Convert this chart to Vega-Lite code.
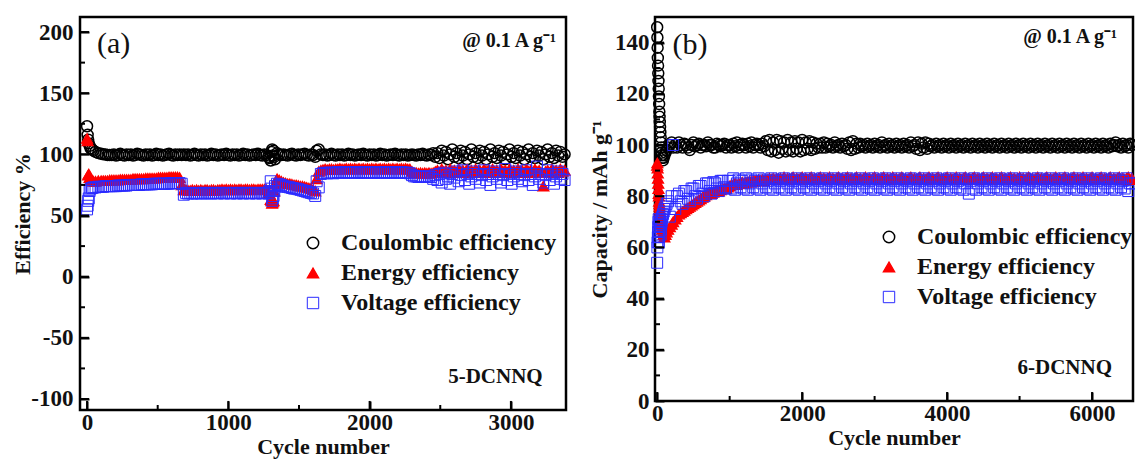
{
  "$schema": "https://vega.github.io/schema/vega-lite/v6.json",
  "background": "white",
  "padding": {"left": 10, "top": 15, "right": 1, "bottom": 0},
  "spacing": 12,
  "config": {
    "font": "Liberation Serif",
    "view": {"stroke": "#000000", "strokeWidth": 2.5},
    "axis": {
      "domain": false,
      "grid": false,
      "ticks": true,
      "tickColor": "#000000",
      "tickOpacity": 1,
      "tickWidth": 2,
      "labelFont": "Liberation Serif",
      "labelFontSize": 23,
      "labelFontWeight": "bold",
      "labelColor": "#111111",
      "titleFont": "Liberation Serif",
      "titleFontSize": 22,
      "titleFontWeight": "bold",
      "titleColor": "#111111"
    },
    "rule": {"color": "#000000", "strokeWidth": 2, "strokeCap": "butt"},
    "legend": {
      "labelFont": "Liberation Serif",
      "labelFontSize": 24,
      "labelFontWeight": "bold",
      "labelColor": "#111111",
      "labelLimit": 0,
      "symbolSize": 130,
      "symbolStrokeWidth": 1.3,
      "rowPadding": 6,
      "labelOffset": 16
    }
  },
  "resolve": {"legend": {"shape": "independent", "fill": "independent", "stroke": "independent", "strokeWidth": "independent"}},
  "datasets": {
    "cellA": [
      {"c": 0, "ce": 123, "ee": 113, "ve": 55},
      {"c": 4, "ce": 116, "ee": 111, "ve": 58},
      {"c": 8, "ce": 112, "ee": 83, "ve": 62},
      {"c": 12, "ce": 109, "ee": 84, "ve": 64},
      {"c": 18, "ce": 107, "ee": 81, "ve": 70},
      {"c": 25, "ce": 105, "ee": 79, "ve": 72},
      {"c": 35, "ce": 104, "ee": 78.5, "ve": 72.5},
      {"c": 45, "ce": 103, "ee": 78, "ve": 73},
      {"c": 60, "ce": 102, "ee": 78, "ve": 73},
      {"c": 80, "ce": 101, "ee": 78.5, "ve": 73.5},
      {"c": 100, "ce": 100.5, "ee": 78.5, "ve": 73.5},
      {"c": 115, "ce": 100, "ee": 78.5, "ve": 73.5},
      {"c": 130, "ce": 100, "ee": 78.5, "ve": 74},
      {"c": 145, "ce": 99.5, "ee": 78.5, "ve": 74},
      {"c": 160, "ce": 99.5, "ee": 79, "ve": 74},
      {"c": 175, "ce": 99.5, "ee": 79, "ve": 74},
      {"c": 190, "ce": 100, "ee": 79, "ve": 74},
      {"c": 205, "ce": 99, "ee": 79, "ve": 74},
      {"c": 220, "ce": 99.5, "ee": 79, "ve": 74.5},
      {"c": 235, "ce": 100.5, "ee": 79.5, "ve": 74.5},
      {"c": 250, "ce": 99.5, "ee": 79.5, "ve": 74.5},
      {"c": 265, "ce": 99, "ee": 79.5, "ve": 74.5},
      {"c": 280, "ce": 100, "ee": 79.5, "ve": 74.5},
      {"c": 295, "ce": 99.5, "ee": 79.5, "ve": 75},
      {"c": 310, "ce": 100, "ee": 79.5, "ve": 75},
      {"c": 325, "ce": 99, "ee": 80, "ve": 75},
      {"c": 340, "ce": 99.5, "ee": 80, "ve": 75},
      {"c": 355, "ce": 100.5, "ee": 80, "ve": 75},
      {"c": 370, "ce": 100, "ee": 80, "ve": 75},
      {"c": 385, "ce": 99.5, "ee": 80, "ve": 75.5},
      {"c": 400, "ce": 99, "ee": 80, "ve": 75.5},
      {"c": 415, "ce": 100, "ee": 80.5, "ve": 75.5},
      {"c": 430, "ce": 99.5, "ee": 80.5, "ve": 75.5},
      {"c": 445, "ce": 100, "ee": 80.5, "ve": 75.5},
      {"c": 460, "ce": 99, "ee": 80.5, "ve": 75.5},
      {"c": 475, "ce": 99.5, "ee": 80.5, "ve": 76},
      {"c": 490, "ce": 100.5, "ee": 80.5, "ve": 76},
      {"c": 505, "ce": 99.5, "ee": 81, "ve": 76},
      {"c": 520, "ce": 100, "ee": 81, "ve": 76},
      {"c": 535, "ce": 99, "ee": 81, "ve": 76},
      {"c": 550, "ce": 99.5, "ee": 81, "ve": 76},
      {"c": 565, "ce": 100, "ee": 81, "ve": 76},
      {"c": 580, "ce": 100.5, "ee": 81.5, "ve": 76},
      {"c": 595, "ce": 99.5, "ee": 81.5, "ve": 76.5},
      {"c": 610, "ce": 99, "ee": 81.5, "ve": 76.5},
      {"c": 625, "ce": 100, "ee": 81.5, "ve": 76.5},
      {"c": 640, "ce": 99.5, "ee": 81.5, "ve": 76.5},
      {"c": 655, "ce": 100, "ee": 81, "ve": 76.5},
      {"c": 670, "ce": 99.5, "ee": 75, "ve": 76},
      {"c": 685, "ce": 100, "ee": 71, "ve": 67},
      {"c": 700, "ce": 99.5, "ee": 71, "ve": 68.5},
      {"c": 715, "ce": 100, "ee": 70.5, "ve": 68},
      {"c": 730, "ce": 99, "ee": 70.5, "ve": 68.5},
      {"c": 745, "ce": 99.5, "ee": 71, "ve": 68},
      {"c": 760, "ce": 100.5, "ee": 70.5, "ve": 68.5},
      {"c": 775, "ce": 99.5, "ee": 71, "ve": 68},
      {"c": 790, "ce": 99, "ee": 70.5, "ve": 68.5},
      {"c": 805, "ce": 100, "ee": 71, "ve": 68},
      {"c": 820, "ce": 99.5, "ee": 70.5, "ve": 68.5},
      {"c": 835, "ce": 100, "ee": 71, "ve": 68.5},
      {"c": 850, "ce": 99, "ee": 71, "ve": 68},
      {"c": 865, "ce": 99.5, "ee": 70.5, "ve": 68.5},
      {"c": 880, "ce": 100.5, "ee": 71, "ve": 68},
      {"c": 895, "ce": 99.5, "ee": 71, "ve": 68.5},
      {"c": 910, "ce": 100, "ee": 70.5, "ve": 68.5},
      {"c": 925, "ce": 99, "ee": 71, "ve": 68},
      {"c": 940, "ce": 99.5, "ee": 71, "ve": 68.5},
      {"c": 955, "ce": 100, "ee": 71.5, "ve": 68.5},
      {"c": 970, "ce": 99.5, "ee": 71, "ve": 68},
      {"c": 985, "ce": 100.5, "ee": 71.5, "ve": 68.5},
      {"c": 1000, "ce": 99.5, "ee": 71, "ve": 68.5},
      {"c": 1015, "ce": 99, "ee": 71.5, "ve": 68},
      {"c": 1030, "ce": 100, "ee": 71, "ve": 68.5},
      {"c": 1045, "ce": 99.5, "ee": 71.5, "ve": 68.5},
      {"c": 1060, "ce": 100, "ee": 71, "ve": 68},
      {"c": 1075, "ce": 99, "ee": 71.5, "ve": 68.5},
      {"c": 1090, "ce": 99.5, "ee": 71.5, "ve": 68.5},
      {"c": 1105, "ce": 100.5, "ee": 71, "ve": 68},
      {"c": 1120, "ce": 99.5, "ee": 71.5, "ve": 68.5},
      {"c": 1135, "ce": 100, "ee": 71.5, "ve": 68.5},
      {"c": 1150, "ce": 99, "ee": 71, "ve": 68},
      {"c": 1165, "ce": 99.5, "ee": 71.5, "ve": 68.5},
      {"c": 1180, "ce": 100, "ee": 71.5, "ve": 68.5},
      {"c": 1195, "ce": 99.5, "ee": 71, "ve": 68},
      {"c": 1210, "ce": 100.5, "ee": 71.5, "ve": 68.5},
      {"c": 1225, "ce": 99.5, "ee": 71.5, "ve": 68.5},
      {"c": 1240, "ce": 99, "ee": 71.5, "ve": 68},
      {"c": 1255, "ce": 100, "ee": 71.5, "ve": 68.5},
      {"c": 1270, "ce": 99.5, "ee": 71, "ve": 68.5},
      {"c": 1285, "ce": 98, "ee": 69, "ve": 68},
      {"c": 1290, "ce": 97, "ee": 68, "ve": 70},
      {"c": 1300, "ce": 95, "ee": 63, "ve": 78},
      {"c": 1305, "ce": 102, "ee": 62, "ve": 72},
      {"c": 1310, "ce": 104, "ee": 60, "ve": 62},
      {"c": 1315, "ce": 99, "ee": 61, "ve": 64},
      {"c": 1320, "ce": 103, "ee": 62, "ve": 66},
      {"c": 1325, "ce": 98, "ee": 70, "ve": 70},
      {"c": 1330, "ce": 96, "ee": 76, "ve": 74},
      {"c": 1345, "ce": 101, "ee": 80, "ve": 76},
      {"c": 1360, "ce": 100, "ee": 79, "ve": 75.5},
      {"c": 1375, "ce": 99.5, "ee": 78, "ve": 75},
      {"c": 1390, "ce": 100, "ee": 77, "ve": 74},
      {"c": 1405, "ce": 99.5, "ee": 76.5, "ve": 73.5},
      {"c": 1420, "ce": 99, "ee": 76, "ve": 73.5},
      {"c": 1435, "ce": 100, "ee": 76, "ve": 73},
      {"c": 1450, "ce": 100.5, "ee": 75.5, "ve": 72.5},
      {"c": 1465, "ce": 99.5, "ee": 75, "ve": 72},
      {"c": 1480, "ce": 99, "ee": 75, "ve": 72},
      {"c": 1495, "ce": 100, "ee": 74.5, "ve": 71.5},
      {"c": 1510, "ce": 99.5, "ee": 74, "ve": 71},
      {"c": 1525, "ce": 100, "ee": 74, "ve": 70.5},
      {"c": 1540, "ce": 100.5, "ee": 73.5, "ve": 70},
      {"c": 1555, "ce": 99.5, "ee": 73, "ve": 69.5},
      {"c": 1570, "ce": 99, "ee": 72.5, "ve": 69},
      {"c": 1585, "ce": 100, "ee": 72, "ve": 68.5},
      {"c": 1600, "ce": 99.5, "ee": 71, "ve": 68},
      {"c": 1615, "ce": 98, "ee": 70, "ve": 66},
      {"c": 1625, "ce": 103, "ee": 80, "ve": 78},
      {"c": 1640, "ce": 104, "ee": 86, "ve": 73},
      {"c": 1655, "ce": 100, "ee": 87, "ve": 84},
      {"c": 1670, "ce": 99.5, "ee": 87.5, "ve": 84.5},
      {"c": 1685, "ce": 100, "ee": 88, "ve": 85},
      {"c": 1700, "ce": 99, "ee": 87.5, "ve": 84.5},
      {"c": 1715, "ce": 99.5, "ee": 88, "ve": 85},
      {"c": 1730, "ce": 100.5, "ee": 88, "ve": 85},
      {"c": 1745, "ce": 99.5, "ee": 87.5, "ve": 84.5},
      {"c": 1760, "ce": 99, "ee": 88, "ve": 85},
      {"c": 1775, "ce": 100, "ee": 88, "ve": 85.5},
      {"c": 1790, "ce": 99.5, "ee": 88.5, "ve": 85},
      {"c": 1805, "ce": 100, "ee": 88, "ve": 85},
      {"c": 1820, "ce": 99, "ee": 88, "ve": 85.5},
      {"c": 1835, "ce": 99.5, "ee": 88.5, "ve": 85},
      {"c": 1850, "ce": 100.5, "ee": 88, "ve": 85},
      {"c": 1865, "ce": 99.5, "ee": 88.5, "ve": 85.5},
      {"c": 1880, "ce": 100, "ee": 88, "ve": 85},
      {"c": 1895, "ce": 99, "ee": 88.5, "ve": 85},
      {"c": 1910, "ce": 99.5, "ee": 88, "ve": 85.5},
      {"c": 1925, "ce": 100, "ee": 88.5, "ve": 85},
      {"c": 1940, "ce": 99.5, "ee": 88, "ve": 85},
      {"c": 1955, "ce": 100.5, "ee": 88.5, "ve": 85.5},
      {"c": 1970, "ce": 99.5, "ee": 88, "ve": 85},
      {"c": 1985, "ce": 99, "ee": 88.5, "ve": 85},
      {"c": 2000, "ce": 100, "ee": 88, "ve": 85.5},
      {"c": 2015, "ce": 99.5, "ee": 88.5, "ve": 85},
      {"c": 2030, "ce": 100, "ee": 88, "ve": 85},
      {"c": 2045, "ce": 99, "ee": 88.5, "ve": 85.5},
      {"c": 2060, "ce": 99.5, "ee": 88, "ve": 85},
      {"c": 2075, "ce": 100.5, "ee": 88.5, "ve": 85},
      {"c": 2090, "ce": 99.5, "ee": 88, "ve": 85.5},
      {"c": 2105, "ce": 100, "ee": 88.5, "ve": 85},
      {"c": 2120, "ce": 99, "ee": 88, "ve": 85},
      {"c": 2135, "ce": 99.5, "ee": 88.5, "ve": 85.5},
      {"c": 2150, "ce": 100, "ee": 88, "ve": 85},
      {"c": 2165, "ce": 99.5, "ee": 88.5, "ve": 85},
      {"c": 2180, "ce": 100.5, "ee": 88, "ve": 85.5},
      {"c": 2195, "ce": 99.5, "ee": 88.5, "ve": 85},
      {"c": 2210, "ce": 99, "ee": 88, "ve": 85},
      {"c": 2225, "ce": 100, "ee": 88.5, "ve": 85.5},
      {"c": 2240, "ce": 99.5, "ee": 88, "ve": 85},
      {"c": 2255, "ce": 100, "ee": 88.5, "ve": 85},
      {"c": 2270, "ce": 99, "ee": 88, "ve": 85},
      {"c": 2285, "ce": 99.5, "ee": 88, "ve": 84.5},
      {"c": 2300, "ce": 100, "ee": 86, "ve": 83},
      {"c": 2315, "ce": 99.5, "ee": 85, "ve": 82},
      {"c": 2330, "ce": 99, "ee": 85, "ve": 82},
      {"c": 2345, "ce": 100, "ee": 84.5, "ve": 81.5},
      {"c": 2360, "ce": 99.5, "ee": 85, "ve": 82},
      {"c": 2375, "ce": 100.5, "ee": 84.5, "ve": 81.5},
      {"c": 2390, "ce": 99.5, "ee": 85, "ve": 82},
      {"c": 2405, "ce": 99, "ee": 84.5, "ve": 81.5},
      {"c": 2420, "ce": 100, "ee": 85, "ve": 82},
      {"c": 2435, "ce": 99.5, "ee": 84.5, "ve": 81.5},
      {"c": 2450, "ce": 101, "ee": 85, "ve": 80},
      {"c": 2465, "ce": 98, "ee": 86, "ve": 83},
      {"c": 2480, "ce": 101, "ee": 87, "ve": 79},
      {"c": 2495, "ce": 97, "ee": 85, "ve": 84},
      {"c": 2510, "ce": 103, "ee": 88, "ve": 77},
      {"c": 2525, "ce": 99, "ee": 86, "ve": 85},
      {"c": 2540, "ce": 102, "ee": 87, "ve": 80},
      {"c": 2555, "ce": 96, "ee": 85, "ve": 82},
      {"c": 2570, "ce": 100, "ee": 88, "ve": 76},
      {"c": 2585, "ce": 104, "ee": 86, "ve": 84},
      {"c": 2600, "ce": 98, "ee": 87, "ve": 81},
      {"c": 2615, "ce": 101, "ee": 85, "ve": 86},
      {"c": 2630, "ce": 97, "ee": 88, "ve": 78},
      {"c": 2645, "ce": 103, "ee": 86, "ve": 83},
      {"c": 2660, "ce": 99, "ee": 87, "ve": 87},
      {"c": 2675, "ce": 102, "ee": 85, "ve": 79},
      {"c": 2690, "ce": 96, "ee": 88, "ve": 84},
      {"c": 2705, "ce": 100, "ee": 86, "ve": 76},
      {"c": 2720, "ce": 104, "ee": 87, "ve": 82},
      {"c": 2735, "ce": 98, "ee": 85, "ve": 86},
      {"c": 2750, "ce": 101, "ee": 88, "ve": 80},
      {"c": 2765, "ce": 97, "ee": 86, "ve": 84},
      {"c": 2780, "ce": 103, "ee": 87, "ve": 77},
      {"c": 2795, "ce": 99, "ee": 85, "ve": 83},
      {"c": 2810, "ce": 102, "ee": 88, "ve": 87},
      {"c": 2825, "ce": 96, "ee": 86, "ve": 79},
      {"c": 2840, "ce": 100, "ee": 87, "ve": 84},
      {"c": 2855, "ce": 104, "ee": 85, "ve": 75},
      {"c": 2870, "ce": 98, "ee": 88, "ve": 82},
      {"c": 2885, "ce": 101, "ee": 86, "ve": 86},
      {"c": 2900, "ce": 97, "ee": 87, "ve": 80},
      {"c": 2915, "ce": 103, "ee": 85, "ve": 84},
      {"c": 2930, "ce": 99, "ee": 88, "ve": 77},
      {"c": 2945, "ce": 102, "ee": 86, "ve": 83},
      {"c": 2960, "ce": 96, "ee": 87, "ve": 88},
      {"c": 2975, "ce": 100, "ee": 85, "ve": 79},
      {"c": 2990, "ce": 104, "ee": 88, "ve": 84},
      {"c": 3005, "ce": 98, "ee": 86, "ve": 76},
      {"c": 3020, "ce": 101, "ee": 87, "ve": 82},
      {"c": 3035, "ce": 97, "ee": 85, "ve": 86},
      {"c": 3050, "ce": 103, "ee": 88, "ve": 80},
      {"c": 3065, "ce": 99, "ee": 86, "ve": 84},
      {"c": 3080, "ce": 102, "ee": 87, "ve": 78},
      {"c": 3095, "ce": 96, "ee": 85, "ve": 83},
      {"c": 3110, "ce": 100, "ee": 88, "ve": 87},
      {"c": 3125, "ce": 104, "ee": 86, "ve": 79},
      {"c": 3140, "ce": 98, "ee": 87, "ve": 84},
      {"c": 3155, "ce": 101, "ee": 85, "ve": 75},
      {"c": 3170, "ce": 97, "ee": 88, "ve": 82},
      {"c": 3185, "ce": 103, "ee": 86, "ve": 90},
      {"c": 3200, "ce": 99, "ee": 87, "ve": 80},
      {"c": 3215, "ce": 102, "ee": 85, "ve": 84},
      {"c": 3230, "ce": 96, "ee": 74, "ve": 77},
      {"c": 3245, "ce": 100, "ee": 86, "ve": 83},
      {"c": 3260, "ce": 104, "ee": 87, "ve": 87},
      {"c": 3275, "ce": 98, "ee": 85, "ve": 79},
      {"c": 3290, "ce": 101, "ee": 88, "ve": 84},
      {"c": 3305, "ce": 97, "ee": 86, "ve": 76},
      {"c": 3320, "ce": 103, "ee": 87, "ve": 82},
      {"c": 3335, "ce": 99, "ee": 85, "ve": 86},
      {"c": 3350, "ce": 102, "ee": 88, "ve": 80},
      {"c": 3365, "ce": 98, "ee": 86, "ve": 84},
      {"c": 3380, "ce": 100, "ee": 87, "ve": 79}
    ],
    "cellB": [
      {"c": 0, "ce": 146, "ee": 92, "ve": 54},
      {"c": 3, "ce": 142, "ee": 93, "ve": 60},
      {"c": 6, "ce": 138, "ee": 91, "ve": 62},
      {"c": 9, "ce": 134, "ee": 89, "ve": 64},
      {"c": 12, "ce": 131, "ee": 87, "ve": 66},
      {"c": 15, "ce": 128, "ee": 85, "ve": 68},
      {"c": 18, "ce": 125, "ee": 83, "ve": 70},
      {"c": 21, "ce": 122, "ee": 81, "ve": 71},
      {"c": 24, "ce": 119, "ee": 80, "ve": 62},
      {"c": 27, "ce": 116, "ee": 78, "ve": 64},
      {"c": 30, "ce": 113, "ee": 77, "ve": 66},
      {"c": 33, "ce": 111, "ee": 76, "ve": 68},
      {"c": 36, "ce": 109, "ee": 75, "ve": 69},
      {"c": 40, "ce": 107, "ee": 74, "ve": 70},
      {"c": 44, "ce": 105, "ee": 73, "ve": 71},
      {"c": 48, "ce": 103, "ee": 72, "ve": 65},
      {"c": 52, "ce": 101, "ee": 71, "ve": 67},
      {"c": 56, "ce": 99, "ee": 70, "ve": 69},
      {"c": 60, "ce": 97, "ee": 69, "ve": 70},
      {"c": 65, "ce": 96, "ee": 68, "ve": 71},
      {"c": 70, "ce": 95, "ee": 67, "ve": 72},
      {"c": 80, "ce": 94, "ee": 66, "ve": 73},
      {"c": 90, "ce": 95, "ee": 65, "ve": 74},
      {"c": 100, "ce": 96, "ee": 64, "ve": 75},
      {"c": 115, "ce": 97, "ee": 65, "ve": 76},
      {"c": 130, "ce": 98, "ee": 66, "ve": 77},
      {"c": 150, "ce": 99, "ee": 67, "ve": 78},
      {"c": 175, "ce": 100, "ee": 68, "ve": 72},
      {"c": 200, "ce": 101, "ee": 69, "ve": 80},
      {"c": 220, "ce": 99, "ee": 70, "ve": 100},
      {"c": 250, "ce": 100, "ee": 71, "ve": 75},
      {"c": 275, "ce": 99, "ee": 72, "ve": 80},
      {"c": 300, "ce": 101, "ee": 73, "ve": 81},
      {"c": 325, "ce": 100, "ee": 73.5, "ve": 78},
      {"c": 350, "ce": 99, "ee": 74, "ve": 77},
      {"c": 375, "ce": 100.5, "ee": 74.5, "ve": 82},
      {"c": 400, "ce": 100, "ee": 75, "ve": 82},
      {"c": 425, "ce": 99, "ee": 75.5, "ve": 79},
      {"c": 450, "ce": 98, "ee": 76, "ve": 78},
      {"c": 475, "ce": 100, "ee": 76.5, "ve": 83},
      {"c": 500, "ce": 101, "ee": 77, "ve": 83},
      {"c": 525, "ce": 99.5, "ee": 77.5, "ve": 80},
      {"c": 550, "ce": 100, "ee": 78, "ve": 79},
      {"c": 575, "ce": 100.5, "ee": 78.5, "ve": 84},
      {"c": 600, "ce": 99, "ee": 79, "ve": 84},
      {"c": 625, "ce": 100, "ee": 79.5, "ve": 81},
      {"c": 650, "ce": 100, "ee": 80, "ve": 80},
      {"c": 675, "ce": 99.5, "ee": 80.5, "ve": 85},
      {"c": 700, "ce": 101, "ee": 81, "ve": 85},
      {"c": 725, "ce": 100, "ee": 81, "ve": 82},
      {"c": 750, "ce": 100, "ee": 81, "ve": 81},
      {"c": 775, "ce": 99, "ee": 81.5, "ve": 85.5},
      {"c": 800, "ce": 99, "ee": 82, "ve": 85},
      {"c": 825, "ce": 100.5, "ee": 82, "ve": 83},
      {"c": 850, "ce": 100, "ee": 82, "ve": 82},
      {"c": 875, "ce": 99.5, "ee": 82.5, "ve": 86},
      {"c": 900, "ce": 100, "ee": 83, "ve": 86},
      {"c": 925, "ce": 100.5, "ee": 83, "ve": 83.5},
      {"c": 950, "ce": 99, "ee": 83, "ve": 83},
      {"c": 975, "ce": 100, "ee": 83.5, "ve": 86},
      {"c": 1000, "ce": 100, "ee": 84, "ve": 86},
      {"c": 1025, "ce": 99, "ee": 84.5, "ve": 83},
      {"c": 1050, "ce": 100.5, "ee": 84.5, "ve": 87},
      {"c": 1075, "ce": 99.5, "ee": 85, "ve": 82.5},
      {"c": 1100, "ce": 101, "ee": 84.5, "ve": 85},
      {"c": 1125, "ce": 99, "ee": 85, "ve": 86.5},
      {"c": 1150, "ce": 100, "ee": 85, "ve": 83.5},
      {"c": 1175, "ce": 100.5, "ee": 85.5, "ve": 86},
      {"c": 1200, "ce": 100, "ee": 85, "ve": 83},
      {"c": 1225, "ce": 99, "ee": 85.5, "ve": 87},
      {"c": 1250, "ce": 100.5, "ee": 85.5, "ve": 82.5},
      {"c": 1275, "ce": 99.5, "ee": 86, "ve": 85},
      {"c": 1300, "ce": 101, "ee": 85.5, "ve": 86.5},
      {"c": 1325, "ce": 99, "ee": 86, "ve": 83.5},
      {"c": 1350, "ce": 100, "ee": 86, "ve": 86},
      {"c": 1375, "ce": 100.5, "ee": 86, "ve": 83},
      {"c": 1400, "ce": 100, "ee": 86.5, "ve": 87},
      {"c": 1425, "ce": 99, "ee": 86, "ve": 82.5},
      {"c": 1450, "ce": 100.5, "ee": 86.5, "ve": 85},
      {"c": 1475, "ce": 99.5, "ee": 86, "ve": 86.5},
      {"c": 1500, "ce": 101.5, "ee": 86.5, "ve": 83.5},
      {"c": 1525, "ce": 98, "ee": 86.5, "ve": 86},
      {"c": 1550, "ce": 102, "ee": 87, "ve": 83},
      {"c": 1575, "ce": 97.5, "ee": 86.5, "ve": 87},
      {"c": 1600, "ce": 101, "ee": 87, "ve": 82.5},
      {"c": 1625, "ce": 98, "ee": 86.5, "ve": 85},
      {"c": 1650, "ce": 102, "ee": 87, "ve": 86.5},
      {"c": 1675, "ce": 97, "ee": 86.5, "ve": 83.5},
      {"c": 1700, "ce": 101.5, "ee": 87, "ve": 86},
      {"c": 1725, "ce": 98.5, "ee": 86.5, "ve": 83},
      {"c": 1750, "ce": 101, "ee": 87.5, "ve": 87},
      {"c": 1775, "ce": 97.5, "ee": 86.5, "ve": 82.5},
      {"c": 1800, "ce": 102, "ee": 87, "ve": 85},
      {"c": 1825, "ce": 98, "ee": 86.5, "ve": 86.5},
      {"c": 1850, "ce": 101, "ee": 87, "ve": 83.5},
      {"c": 1875, "ce": 97.5, "ee": 87.5, "ve": 86},
      {"c": 1900, "ce": 101.5, "ee": 86.5, "ve": 83},
      {"c": 1925, "ce": 98.5, "ee": 87, "ve": 87},
      {"c": 1950, "ce": 101, "ee": 86.5, "ve": 82.5},
      {"c": 1975, "ce": 97.5, "ee": 87, "ve": 85},
      {"c": 2000, "ce": 102, "ee": 87.5, "ve": 86.5},
      {"c": 2025, "ce": 98, "ee": 86.5, "ve": 83.5},
      {"c": 2050, "ce": 101, "ee": 87, "ve": 86},
      {"c": 2075, "ce": 98.5, "ee": 86.5, "ve": 83},
      {"c": 2100, "ce": 101.5, "ee": 87, "ve": 87},
      {"c": 2125, "ce": 98, "ee": 87.5, "ve": 82.5},
      {"c": 2150, "ce": 101, "ee": 86.5, "ve": 85},
      {"c": 2175, "ce": 98.5, "ee": 87, "ve": 86.5},
      {"c": 2200, "ce": 100.5, "ee": 86.5, "ve": 83.5},
      {"c": 2225, "ce": 99, "ee": 87, "ve": 86},
      {"c": 2250, "ce": 100.5, "ee": 87.5, "ve": 83},
      {"c": 2275, "ce": 99, "ee": 86.5, "ve": 87},
      {"c": 2300, "ce": 101, "ee": 87, "ve": 82.5},
      {"c": 2325, "ce": 99, "ee": 86.5, "ve": 85},
      {"c": 2350, "ce": 100.5, "ee": 87, "ve": 86.5},
      {"c": 2375, "ce": 99.5, "ee": 87.5, "ve": 83.5},
      {"c": 2400, "ce": 100, "ee": 86.5, "ve": 86},
      {"c": 2425, "ce": 99, "ee": 87, "ve": 83},
      {"c": 2450, "ce": 101, "ee": 86.5, "ve": 87},
      {"c": 2475, "ce": 99.5, "ee": 87, "ve": 82.5},
      {"c": 2500, "ce": 100, "ee": 87.5, "ve": 85},
      {"c": 2525, "ce": 99, "ee": 86.5, "ve": 86.5},
      {"c": 2550, "ce": 100.5, "ee": 87, "ve": 83.5},
      {"c": 2575, "ce": 99.5, "ee": 86.5, "ve": 86},
      {"c": 2600, "ce": 100, "ee": 87, "ve": 83},
      {"c": 2625, "ce": 98.5, "ee": 87.5, "ve": 87},
      {"c": 2650, "ce": 101, "ee": 86.5, "ve": 82.5},
      {"c": 2675, "ce": 98, "ee": 87, "ve": 85},
      {"c": 2700, "ce": 101.5, "ee": 86.5, "ve": 86.5},
      {"c": 2725, "ce": 98.5, "ee": 87, "ve": 83.5},
      {"c": 2750, "ce": 100.5, "ee": 87.5, "ve": 86},
      {"c": 2775, "ce": 99, "ee": 86.5, "ve": 83},
      {"c": 2800, "ce": 100.5, "ee": 87, "ve": 87},
      {"c": 2825, "ce": 99.5, "ee": 86.5, "ve": 82.5},
      {"c": 2850, "ce": 100, "ee": 87, "ve": 85},
      {"c": 2875, "ce": 99, "ee": 87.5, "ve": 86.5},
      {"c": 2900, "ce": 100.5, "ee": 86.5, "ve": 83.5},
      {"c": 2925, "ce": 99.5, "ee": 87, "ve": 86},
      {"c": 2950, "ce": 100, "ee": 86.5, "ve": 83},
      {"c": 2975, "ce": 99, "ee": 87, "ve": 87},
      {"c": 3000, "ce": 100.5, "ee": 87.5, "ve": 82.5},
      {"c": 3025, "ce": 99.5, "ee": 86.5, "ve": 85},
      {"c": 3050, "ce": 100, "ee": 87, "ve": 86.5},
      {"c": 3075, "ce": 99, "ee": 86.5, "ve": 83.5},
      {"c": 3100, "ce": 101, "ee": 87, "ve": 86},
      {"c": 3125, "ce": 99.5, "ee": 87.5, "ve": 83},
      {"c": 3150, "ce": 100, "ee": 86.5, "ve": 87},
      {"c": 3175, "ce": 99, "ee": 87, "ve": 82.5},
      {"c": 3200, "ce": 100.5, "ee": 86.5, "ve": 85},
      {"c": 3225, "ce": 99.5, "ee": 87, "ve": 86.5},
      {"c": 3250, "ce": 100, "ee": 87.5, "ve": 83.5},
      {"c": 3275, "ce": 99, "ee": 86.5, "ve": 86},
      {"c": 3300, "ce": 100.5, "ee": 87, "ve": 83},
      {"c": 3325, "ce": 99.5, "ee": 86.5, "ve": 87},
      {"c": 3350, "ce": 100, "ee": 87, "ve": 82.5},
      {"c": 3375, "ce": 99, "ee": 87.5, "ve": 85},
      {"c": 3400, "ce": 100.5, "ee": 86.5, "ve": 86.5},
      {"c": 3425, "ce": 99.5, "ee": 87, "ve": 83.5},
      {"c": 3450, "ce": 100, "ee": 86.5, "ve": 86},
      {"c": 3475, "ce": 99, "ee": 87, "ve": 83},
      {"c": 3500, "ce": 101, "ee": 87.5, "ve": 87},
      {"c": 3525, "ce": 99.5, "ee": 86.5, "ve": 82.5},
      {"c": 3550, "ce": 100, "ee": 87, "ve": 85},
      {"c": 3575, "ce": 98.5, "ee": 86.5, "ve": 86.5},
      {"c": 3600, "ce": 101, "ee": 87, "ve": 83.5},
      {"c": 3625, "ce": 98, "ee": 87.5, "ve": 86},
      {"c": 3650, "ce": 100.5, "ee": 86.5, "ve": 83},
      {"c": 3675, "ce": 99, "ee": 87, "ve": 87},
      {"c": 3700, "ce": 101, "ee": 86.5, "ve": 82.5},
      {"c": 3725, "ce": 98.5, "ee": 87, "ve": 85},
      {"c": 3750, "ce": 100.5, "ee": 87.5, "ve": 86.5},
      {"c": 3775, "ce": 99.5, "ee": 86.5, "ve": 83.5},
      {"c": 3800, "ce": 100, "ee": 87, "ve": 86},
      {"c": 3825, "ce": 99, "ee": 86.5, "ve": 83},
      {"c": 3850, "ce": 100.5, "ee": 87, "ve": 87},
      {"c": 3875, "ce": 99.5, "ee": 87.5, "ve": 82.5},
      {"c": 3900, "ce": 100, "ee": 86.5, "ve": 85},
      {"c": 3925, "ce": 99, "ee": 87, "ve": 86.5},
      {"c": 3950, "ce": 100.5, "ee": 86.5, "ve": 83.5},
      {"c": 3975, "ce": 99.5, "ee": 87, "ve": 86},
      {"c": 4000, "ce": 100, "ee": 87.5, "ve": 83},
      {"c": 4025, "ce": 99, "ee": 86.5, "ve": 87},
      {"c": 4050, "ce": 100.5, "ee": 87, "ve": 82.5},
      {"c": 4075, "ce": 99.5, "ee": 86.5, "ve": 85},
      {"c": 4100, "ce": 100, "ee": 87, "ve": 86.5},
      {"c": 4125, "ce": 99, "ee": 87.5, "ve": 83.5},
      {"c": 4150, "ce": 100.5, "ee": 86.5, "ve": 86},
      {"c": 4175, "ce": 99.5, "ee": 87, "ve": 83},
      {"c": 4200, "ce": 100, "ee": 86.5, "ve": 87},
      {"c": 4225, "ce": 99, "ee": 87, "ve": 82.5},
      {"c": 4250, "ce": 100.5, "ee": 87.5, "ve": 85},
      {"c": 4275, "ce": 99.5, "ee": 86.5, "ve": 86.5},
      {"c": 4300, "ce": 100, "ee": 87, "ve": 81},
      {"c": 4325, "ce": 99, "ee": 86.5, "ve": 86},
      {"c": 4350, "ce": 100.5, "ee": 87, "ve": 83},
      {"c": 4375, "ce": 99.5, "ee": 87.5, "ve": 87},
      {"c": 4400, "ce": 100, "ee": 86.5, "ve": 82.5},
      {"c": 4425, "ce": 99, "ee": 87, "ve": 85},
      {"c": 4450, "ce": 100.5, "ee": 86.5, "ve": 86.5},
      {"c": 4475, "ce": 99.5, "ee": 87, "ve": 83.5},
      {"c": 4500, "ce": 100, "ee": 87.5, "ve": 86},
      {"c": 4525, "ce": 99, "ee": 86.5, "ve": 83},
      {"c": 4550, "ce": 100.5, "ee": 87, "ve": 87},
      {"c": 4575, "ce": 99.5, "ee": 86.5, "ve": 82.5},
      {"c": 4600, "ce": 100, "ee": 87, "ve": 85},
      {"c": 4625, "ce": 99, "ee": 87.5, "ve": 86.5},
      {"c": 4650, "ce": 100.5, "ee": 86.5, "ve": 83.5},
      {"c": 4675, "ce": 99.5, "ee": 87, "ve": 86},
      {"c": 4700, "ce": 100, "ee": 86.5, "ve": 83},
      {"c": 4725, "ce": 99, "ee": 87, "ve": 87},
      {"c": 4750, "ce": 100.5, "ee": 87.5, "ve": 82.5},
      {"c": 4775, "ce": 99.5, "ee": 86.5, "ve": 85},
      {"c": 4800, "ce": 100, "ee": 87, "ve": 86.5},
      {"c": 4825, "ce": 99, "ee": 86.5, "ve": 83.5},
      {"c": 4850, "ce": 100.5, "ee": 87, "ve": 86},
      {"c": 4875, "ce": 99.5, "ee": 87.5, "ve": 83},
      {"c": 4900, "ce": 100, "ee": 86.5, "ve": 87},
      {"c": 4925, "ce": 99, "ee": 87, "ve": 82.5},
      {"c": 4950, "ce": 100.5, "ee": 86.5, "ve": 85},
      {"c": 4975, "ce": 99.5, "ee": 87, "ve": 86.5},
      {"c": 5000, "ce": 100, "ee": 87.5, "ve": 83.5},
      {"c": 5025, "ce": 99, "ee": 86.5, "ve": 86},
      {"c": 5050, "ce": 100.5, "ee": 87, "ve": 83},
      {"c": 5075, "ce": 99.5, "ee": 86.5, "ve": 87},
      {"c": 5100, "ce": 100, "ee": 87, "ve": 82.5},
      {"c": 5125, "ce": 99, "ee": 87.5, "ve": 85},
      {"c": 5150, "ce": 100.5, "ee": 86.5, "ve": 86.5},
      {"c": 5175, "ce": 99.5, "ee": 87, "ve": 83.5},
      {"c": 5200, "ce": 100, "ee": 86.5, "ve": 86},
      {"c": 5225, "ce": 99, "ee": 87, "ve": 83},
      {"c": 5250, "ce": 100.5, "ee": 87.5, "ve": 87},
      {"c": 5275, "ce": 99.5, "ee": 86.5, "ve": 82.5},
      {"c": 5300, "ce": 100, "ee": 87, "ve": 85},
      {"c": 5325, "ce": 99, "ee": 86.5, "ve": 86.5},
      {"c": 5350, "ce": 100.5, "ee": 87, "ve": 83.5},
      {"c": 5375, "ce": 99.5, "ee": 87.5, "ve": 86},
      {"c": 5400, "ce": 100, "ee": 86.5, "ve": 83},
      {"c": 5425, "ce": 99, "ee": 87, "ve": 87},
      {"c": 5450, "ce": 100.5, "ee": 86.5, "ve": 82.5},
      {"c": 5475, "ce": 99.5, "ee": 87, "ve": 85},
      {"c": 5500, "ce": 100, "ee": 87.5, "ve": 86.5},
      {"c": 5525, "ce": 99, "ee": 86.5, "ve": 83.5},
      {"c": 5550, "ce": 100.5, "ee": 87, "ve": 86},
      {"c": 5575, "ce": 99.5, "ee": 86.5, "ve": 83},
      {"c": 5600, "ce": 100, "ee": 87, "ve": 87},
      {"c": 5625, "ce": 99, "ee": 87.5, "ve": 82.5},
      {"c": 5650, "ce": 100.5, "ee": 86.5, "ve": 85},
      {"c": 5675, "ce": 99.5, "ee": 87, "ve": 86.5},
      {"c": 5700, "ce": 100, "ee": 86.5, "ve": 83.5},
      {"c": 5725, "ce": 99, "ee": 87, "ve": 86},
      {"c": 5750, "ce": 100.5, "ee": 87.5, "ve": 83},
      {"c": 5775, "ce": 99.5, "ee": 86.5, "ve": 87},
      {"c": 5800, "ce": 100, "ee": 87, "ve": 82.5},
      {"c": 5825, "ce": 99, "ee": 86.5, "ve": 85},
      {"c": 5850, "ce": 100.5, "ee": 87, "ve": 86.5},
      {"c": 5875, "ce": 99.5, "ee": 87.5, "ve": 83.5},
      {"c": 5900, "ce": 100, "ee": 86.5, "ve": 86},
      {"c": 5925, "ce": 99, "ee": 87, "ve": 83},
      {"c": 5950, "ce": 100.5, "ee": 86.5, "ve": 87},
      {"c": 5975, "ce": 99.5, "ee": 87, "ve": 82.5},
      {"c": 6000, "ce": 100, "ee": 87.5, "ve": 85},
      {"c": 6025, "ce": 99, "ee": 86.5, "ve": 86.5},
      {"c": 6050, "ce": 100.5, "ee": 87, "ve": 83.5},
      {"c": 6075, "ce": 99.5, "ee": 86.5, "ve": 86},
      {"c": 6100, "ce": 100, "ee": 87, "ve": 83},
      {"c": 6125, "ce": 99, "ee": 87.5, "ve": 87},
      {"c": 6150, "ce": 100.5, "ee": 86.5, "ve": 82.5},
      {"c": 6175, "ce": 99.5, "ee": 87, "ve": 85},
      {"c": 6200, "ce": 100, "ee": 86.5, "ve": 86.5},
      {"c": 6225, "ce": 99, "ee": 87, "ve": 83.5},
      {"c": 6250, "ce": 100.5, "ee": 87.5, "ve": 86},
      {"c": 6275, "ce": 99.5, "ee": 86.5, "ve": 83},
      {"c": 6300, "ce": 100, "ee": 87, "ve": 87},
      {"c": 6325, "ce": 101, "ee": 86.5, "ve": 82.5},
      {"c": 6350, "ce": 99.5, "ee": 87, "ve": 85},
      {"c": 6375, "ce": 100, "ee": 87.5, "ve": 86.5},
      {"c": 6400, "ce": 99, "ee": 86.5, "ve": 83.5},
      {"c": 6425, "ce": 100.5, "ee": 87, "ve": 86},
      {"c": 6450, "ce": 99.5, "ee": 86.5, "ve": 83},
      {"c": 6475, "ce": 100, "ee": 87, "ve": 87},
      {"c": 6500, "ce": 99, "ee": 87.5, "ve": 82},
      {"c": 6525, "ce": 100.5, "ee": 86.5, "ve": 85},
      {"c": 6550, "ce": 100, "ee": 87, "ve": 85}
    ]
  },
  "hconcat": [
    {
      "width": 486,
      "height": 393,
      "resolve": {"axis": {"x": "independent", "y": "independent"}},
      "layer": [
        {
          "data": {"name": "cellA"},
          "transform": [{"fold": ["ce", "ee", "ve"], "as": ["series", "val"]}],
          "mark": {"type": "point", "filled": true, "size": 120, "opacity": 1},
          "encoding": {
            "x": {
              "field": "c", "type": "quantitative", "title": "Cycle number",
              "scale": {"domain": [-50, 3390], "nice": false, "zero": false},
              "axis": {"values": [0, 1000, 2000, 3000], "format": "d", "ticks": true, "offset": -9, "tickSize": 9, "labelPadding": 1, "titlePadding": 2}
            },
            "y": {
              "field": "val", "type": "quantitative", "title": "Efficiency %",
              "scale": {"domain": [-109, 212.3], "nice": false, "zero": false},
              "axis": {
                "values": [-100, -50, 0, 50, 100, 150, 200],
                "labelExpr": "replace(datum.label, '\u2212', '-')",
                "ticks": true, "offset": -9, "tickSize": 9, "labelPadding": 7, "titlePadding": -4
              }
            },
            "shape": {
              "field": "series", "type": "nominal",
              "scale": {"domain": ["ce", "ee", "ve"], "range": ["circle", "triangle-up", "square"]},
              "legend": {"title": null, "orient": "none", "legendX": 221, "legendY": 214,
                "labelExpr": "datum.label == 'ce' ? 'Coulombic efficiency' : datum.label == 'ee' ? 'Energy efficiency' : 'Voltage efficiency'"}
            },
            "stroke": {
              "field": "series", "type": "nominal",
              "scale": {"domain": ["ce", "ee", "ve"], "range": ["#000000", "#ff0000", "#2b2bff"]},
              "legend": {"title": null, "orient": "none", "legendX": 221, "legendY": 214,
                "labelExpr": "datum.label == 'ce' ? 'Coulombic efficiency' : datum.label == 'ee' ? 'Energy efficiency' : 'Voltage efficiency'"}
            },
            "fill": {
              "field": "series", "type": "nominal",
              "scale": {"domain": ["ce", "ee", "ve"], "range": ["transparent", "#ff0000", "transparent"]},
              "legend": {"title": null, "orient": "none", "legendX": 221, "legendY": 214,
                "labelExpr": "datum.label == 'ce' ? 'Coulombic efficiency' : datum.label == 'ee' ? 'Energy efficiency' : 'Voltage efficiency'"}
            },
            "strokeWidth": {
              "field": "series", "type": "nominal",
              "scale": {"domain": ["ce", "ee", "ve"], "range": [1.5, 1, 1.3]},
              "legend": null
            },
            "order": {"field": "series", "sort": "ascending"}
          }
        },
        {
          "data": {"values": [{"t": 0}, {"t": 1000}, {"t": 2000}, {"t": 3000}]},
          "mark": "rule",
          "encoding": {
            "x": {"field": "t", "type": "quantitative", "axis": null},
            "y": {"datum": -109, "type": "quantitative", "axis": null},
            "y2": {"datum": -101.6}
          }
        },
        {
          "data": {"values": [{"t": 500}, {"t": 1500}, {"t": 2500}]},
          "mark": "rule",
          "encoding": {
            "x": {"field": "t", "type": "quantitative", "axis": null},
            "y": {"datum": -109, "type": "quantitative", "axis": null},
            "y2": {"datum": -104.9}
          }
        },
        {
          "data": {"values": [{"t": -100}, {"t": -50}, {"t": 0}, {"t": 50}, {"t": 100}, {"t": 150}, {"t": 200}]},
          "mark": "rule",
          "encoding": {
            "y": {"field": "t", "type": "quantitative", "axis": null},
            "x": {"datum": -50, "type": "quantitative", "axis": null},
            "x2": {"datum": 13.7}
          }
        },
        {
          "data": {"values": [{"t": -75}, {"t": -25}, {"t": 25}, {"t": 75}, {"t": 125}, {"t": 175}]},
          "mark": "rule",
          "encoding": {
            "y": {"field": "t", "type": "quantitative", "axis": null},
            "x": {"datum": -50, "type": "quantitative", "axis": null},
            "x2": {"datum": -14.6}
          }
        },
        {
          "data": {"values": [{}]},
          "mark": {"type": "text", "text": "(a)", "font": "Liberation Serif", "fontSize": 30, "align": "left", "baseline": "middle", "color": "#111111"},
          "encoding": {"x": {"datum": 70, "type": "quantitative", "axis": null}, "y": {"datum": 190, "type": "quantitative", "axis": null}}
        },
        {
          "data": {"values": [{}]},
          "mark": {"type": "text", "text": "@ 0.1 A g\u207b\u00b9", "font": "Liberation Serif", "fontSize": 20, "fontWeight": "bold", "align": "right", "baseline": "middle", "color": "#111111"},
          "encoding": {"x": {"datum": 3320, "type": "quantitative", "axis": null}, "y": {"datum": 193, "type": "quantitative", "axis": null}}
        },
        {
          "data": {"values": [{}]},
          "mark": {"type": "text", "text": "5-DCNNQ", "font": "Liberation Serif", "fontSize": 21, "fontWeight": "bold", "align": "right", "baseline": "middle", "color": "#111111"},
          "encoding": {"x": {"datum": 3225, "type": "quantitative", "axis": null}, "y": {"datum": -82, "type": "quantitative", "axis": null}}
        }
      ]
    },
    {
      "width": 478,
      "height": 384,
      "resolve": {"axis": {"x": "independent", "y": "independent"}},
      "layer": [
        {
          "data": {"name": "cellB"},
          "transform": [{"fold": ["ce", "ee", "ve"], "as": ["series", "val"]}],
          "mark": {"type": "point", "filled": true, "size": 120, "opacity": 1},
          "encoding": {
            "x": {
              "field": "c", "type": "quantitative", "title": "Cycle number",
              "scale": {"domain": [-30, 6565], "nice": false, "zero": false},
              "axis": {"values": [0, 2000, 4000, 6000], "format": "d", "ticks": true, "offset": -9, "tickSize": 9, "labelPadding": 1, "titlePadding": 2}
            },
            "y": {
              "field": "val", "type": "quantitative", "title": "Capacity / mAh g\u207b\u00b9",
              "scale": {"domain": [0, 150], "nice": false, "zero": false},
              "axis": {"values": [0, 20, 40, 60, 80, 100, 120, 140], "ticks": true, "offset": -9, "tickSize": 9, "labelPadding": 6, "titlePadding": 3}
            },
            "shape": {
              "field": "series", "type": "nominal",
              "scale": {"domain": ["ce", "ee", "ve"], "range": ["circle", "triangle-up", "square"]},
              "legend": {"title": null, "orient": "none", "legendX": 222, "legendY": 208,
                "labelExpr": "datum.label == 'ce' ? 'Coulombic efficiency' : datum.label == 'ee' ? 'Energy efficiency' : 'Voltage efficiency'"}
            },
            "stroke": {
              "field": "series", "type": "nominal",
              "scale": {"domain": ["ce", "ee", "ve"], "range": ["#000000", "#ff0000", "#2b2bff"]},
              "legend": {"title": null, "orient": "none", "legendX": 222, "legendY": 208,
                "labelExpr": "datum.label == 'ce' ? 'Coulombic efficiency' : datum.label == 'ee' ? 'Energy efficiency' : 'Voltage efficiency'"}
            },
            "fill": {
              "field": "series", "type": "nominal",
              "scale": {"domain": ["ce", "ee", "ve"], "range": ["transparent", "#ff0000", "transparent"]},
              "legend": {"title": null, "orient": "none", "legendX": 222, "legendY": 208,
                "labelExpr": "datum.label == 'ce' ? 'Coulombic efficiency' : datum.label == 'ee' ? 'Energy efficiency' : 'Voltage efficiency'"}
            },
            "strokeWidth": {
              "field": "series", "type": "nominal",
              "scale": {"domain": ["ce", "ee", "ve"], "range": [1.5, 1, 1.3]},
              "legend": null
            },
            "order": {"field": "series", "sort": "ascending"}
          }
        },
        {
          "data": {"values": [{"t": 0}, {"t": 2000}, {"t": 4000}, {"t": 6000}]},
          "mark": "rule",
          "encoding": {
            "x": {"field": "t", "type": "quantitative", "axis": null},
            "y": {"datum": 0, "type": "quantitative", "axis": null},
            "y2": {"datum": 3.5}
          }
        },
        {
          "data": {"values": [{"t": 1000}, {"t": 3000}, {"t": 5000}]},
          "mark": "rule",
          "encoding": {
            "x": {"field": "t", "type": "quantitative", "axis": null},
            "y": {"datum": 0, "type": "quantitative", "axis": null},
            "y2": {"datum": 1.95}
          }
        },
        {
          "data": {"values": [{"t": 0}, {"t": 20}, {"t": 40}, {"t": 60}, {"t": 80}, {"t": 100}, {"t": 120}, {"t": 140}]},
          "mark": "rule",
          "encoding": {
            "y": {"field": "t", "type": "quantitative", "axis": null},
            "x": {"datum": -30, "type": "quantitative", "axis": null},
            "x2": {"datum": 94}
          }
        },
        {
          "data": {"values": [{"t": 10}, {"t": 30}, {"t": 50}, {"t": 70}, {"t": 90}, {"t": 110}, {"t": 130}]},
          "mark": "rule",
          "encoding": {
            "y": {"field": "t", "type": "quantitative", "axis": null},
            "x": {"datum": -30, "type": "quantitative", "axis": null},
            "x2": {"datum": 39}
          }
        },
        {
          "data": {"values": [{}]},
          "mark": {"type": "text", "text": "(b)", "font": "Liberation Serif", "fontSize": 30, "align": "left", "baseline": "middle", "color": "#111111"},
          "encoding": {"x": {"datum": 210, "type": "quantitative", "axis": null}, "y": {"datum": 139, "type": "quantitative", "axis": null}}
        },
        {
          "data": {"values": [{}]},
          "mark": {"type": "text", "text": "@ 0.1 A g\u207b\u00b9", "font": "Liberation Serif", "fontSize": 20, "fontWeight": "bold", "align": "right", "baseline": "middle", "color": "#111111"},
          "encoding": {"x": {"datum": 6345, "type": "quantitative", "axis": null}, "y": {"datum": 142, "type": "quantitative", "axis": null}}
        },
        {
          "data": {"values": [{}]},
          "mark": {"type": "text", "text": "6-DCNNQ", "font": "Liberation Serif", "fontSize": 21, "fontWeight": "bold", "align": "right", "baseline": "middle", "color": "#111111"},
          "encoding": {"x": {"datum": 6275, "type": "quantitative", "axis": null}, "y": {"datum": 13, "type": "quantitative", "axis": null}}
        }
      ]
    }
  ]
}
